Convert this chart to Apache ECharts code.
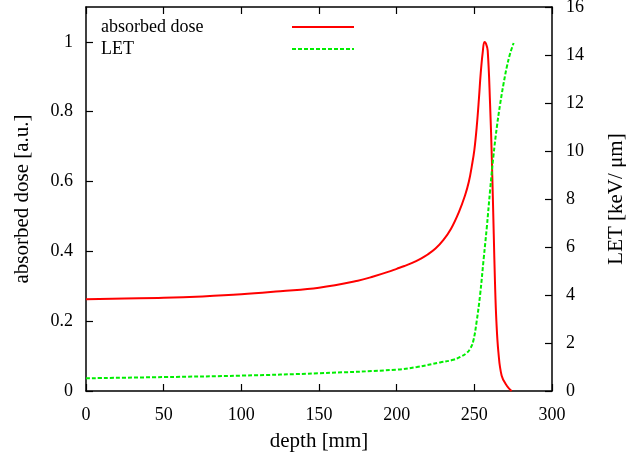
<!DOCTYPE html>
<html>
<head>
<meta charset="utf-8">
<script src="https://cdn.jsdelivr.net/npm/echarts@6/dist/echarts.min.js"></script>
<style>html,body{margin:0;padding:0;background:#fff;}#c{width:626px;height:465px;}</style>
</head>
<body>
<div id="c"></div>
<script>
const doseDepth = [0, 25, 50, 75, 100, 125, 150, 175, 185, 195, 200, 205, 210, 215, 220, 225, 230, 235, 240, 244, 246.5, 248.4, 250, 251.6, 253, 254.1, 255.4, 256.5, 257.5, 258.6, 260.1, 261.3, 262.5, 263.3, 264.2, 265.5, 267.6, 270.9, 274];
const doseValues = [0.263, 0.265, 0.267, 0.271, 0.277, 0.286, 0.296, 0.316, 0.328, 0.342, 0.350, 0.358, 0.367, 0.378, 0.391, 0.408, 0.432, 0.465, 0.512, 0.56, 0.60, 0.645, 0.69, 0.76, 0.84, 0.91, 0.97, 1.0, 0.995, 0.975, 0.826, 0.66, 0.45, 0.31, 0.2, 0.111, 0.044, 0.015, 0];
const letDepth = [0, 50, 100, 150, 200, 213, 228, 236.5, 241, 245, 247.5, 249.4, 251.5, 253.7, 256, 258, 260.2, 262.3, 264.5, 266.6, 268.8, 270.9, 273, 275.3];
const letValues = [0.53, 0.58, 0.64, 0.74, 0.89, 1.0, 1.19, 1.30, 1.42, 1.58, 1.78, 2.1, 2.9, 4.0, 5.5, 6.8, 8.4, 9.8, 11.0, 11.95, 12.8, 13.5, 14.05, 14.5];
const seriesNames = ['absorbed dose', 'LET'];
const xTitle = 'depth [mm]';
const yTitle = 'absorbed dose [a.u.]';
const y2Title = 'LET [keV/ μm]';

const font = 'Liberation Serif';
const black = '#000';
const axisLine = {show: true, onZero: false, lineStyle: {color: black, width: 1.5}};
const tickIn = {show: true, inside: true, length: 7, lineStyle: {color: black, width: 1.2}};
const lbl = {color: black, fontFamily: font, fontSize: 18};
const nameStyle = {color: black, fontFamily: font, fontSize: 21};

const chart = echarts.init(document.getElementById('c'), null, {renderer: 'canvas'});
chart.setOption({
  animation: false,
  backgroundColor: '#fff',
  grid: {left: 86, right: 74, top: 7, bottom: 74, containLabel: false, outerBoundsMode: 'none'},
  legend: {
    left: 101, top: 18, orient: 'vertical', align: 'right', itemGap: 4,
    itemWidth: 62, itemHeight: 14, padding: 0,
    formatter: name => '{t|' + name + '}',
    textStyle: {color: black, fontFamily: font, fontSize: 18,
      rich: {t: {width: 186, align: 'left', fontFamily: font, fontSize: 18, color: black}}},
    data: [
      {name: seriesNames[0], icon: 'path://M0,6 L62,6 L62,8 L0,8 Z'},
      {name: seriesNames[1], icon: 'path://M0,6 L4,6 L4,8 L0,8 Z M6,6 L10,6 L10,8 L6,8 Z M12,6 L16,6 L16,8 L12,8 Z M18,6 L22,6 L22,8 L18,8 Z M24,6 L28,6 L28,8 L24,8 Z M30,6 L34,6 L34,8 L30,8 Z M36,6 L40,6 L40,8 L36,8 Z M42,6 L46,6 L46,8 L42,8 Z M48,6 L52,6 L52,8 L48,8 Z M54,6 L58,6 L58,8 L54,8 Z M60,6 L62,6 L62,8 L60,8 Z'}
    ]
  },
  xAxis: [
    {type: 'value', min: 0, max: 300, interval: 50, position: 'bottom',
     name: xTitle, nameLocation: 'middle', nameGap: 40, nameTextStyle: nameStyle,
     axisLine: axisLine, axisTick: tickIn, splitLine: {show: false},
     axisLabel: Object.assign({margin: 15}, lbl)},
    {type: 'value', min: 0, max: 300, interval: 50, position: 'top',
     axisLine: axisLine, axisTick: tickIn, splitLine: {show: false},
     axisLabel: {show: false}}
  ],
  yAxis: [
    {type: 'value', min: 0, max: 1.1, interval: 0.2, position: 'left',
     name: yTitle, nameLocation: 'middle', nameGap: 53, nameRotate: 90, nameTextStyle: nameStyle,
     axisLine: axisLine, axisTick: tickIn, splitLine: {show: false},
     axisLabel: Object.assign({margin: 13, showMaxLabel: false}, lbl)},
    {type: 'value', min: 0, max: 16, interval: 2, position: 'right',
     name: y2Title, nameLocation: 'middle', nameGap: 54, nameRotate: 90, nameTextStyle: nameStyle,
     axisLine: axisLine, axisTick: tickIn, splitLine: {show: false},
     axisLabel: Object.assign({margin: 14}, lbl)}
  ],
  series: [
    {name: seriesNames[0], type: 'line', xAxisIndex: 0, yAxisIndex: 0,
     showSymbol: false, smooth: 0.4, color: '#ff0000',
     lineStyle: {color: '#ff0000', width: 2},
     data: doseDepth.map((d, i) => [d, doseValues[i]])},
    {name: seriesNames[1], type: 'line', xAxisIndex: 0, yAxisIndex: 1,
     showSymbol: false, smooth: 0.4, color: '#00ee00',
     lineStyle: {color: '#00ee00', width: 2, type: [4, 2]},
     data: letDepth.map((d, i) => [d, letValues[i]])}
  ]
});
</script>
</body>
</html>
